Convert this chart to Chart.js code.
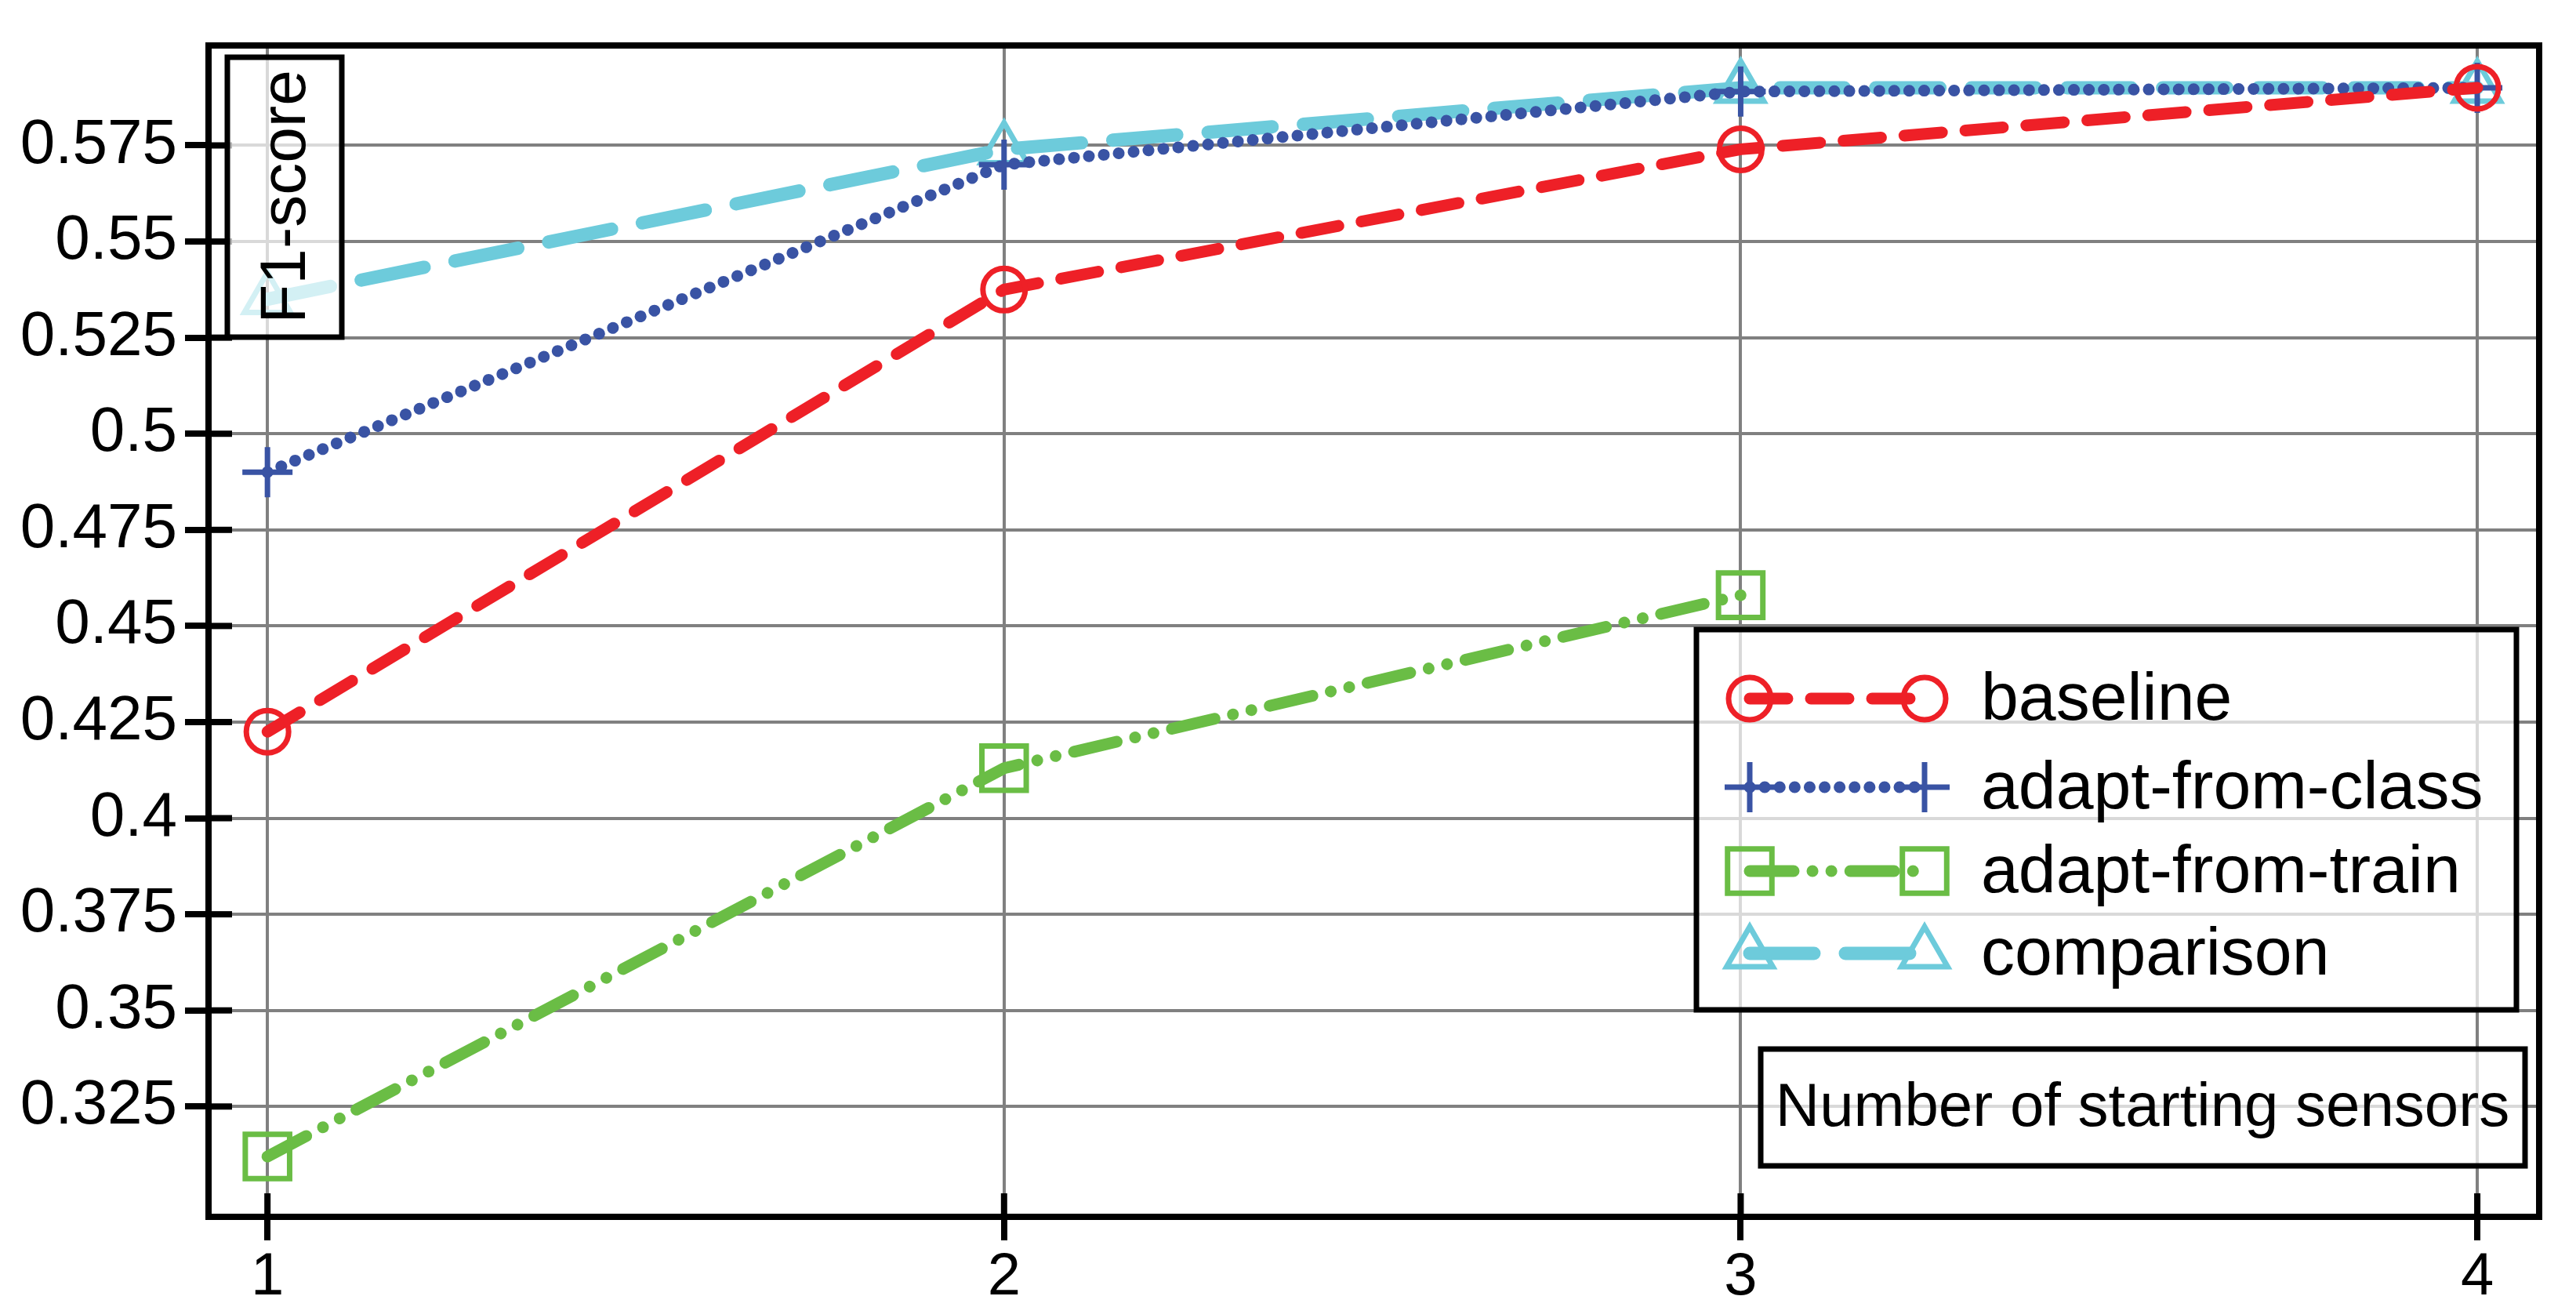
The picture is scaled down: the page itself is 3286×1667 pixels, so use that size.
<!DOCTYPE html>
<html><head><meta charset="utf-8">
<script src="https://cdn.jsdelivr.net/npm/chart.js@4"></script>
<style>html,body{margin:0;padding:0;background:#fff;overflow:hidden}</style>
</head><body>
<canvas id="c" width="3286" height="1667"></canvas>
<script>
const xCategories = [1, 2, 3, 4];
const baseline = [0.4225, 0.5375, 0.574, 0.59];
const adaptFromClass = [0.49, 0.57, 0.589, 0.59];
const adaptFromTrain = [0.312, 0.413, 0.458, null];
const comparison = [0.535, 0.574, 0.59, 0.59];
const yTicks = [0.325,0.35,0.375,0.4,0.425,0.45,0.475,0.5,0.525,0.55,0.575];
const seriesNames = ['baseline','adapt-from-class','adapt-from-train','comparison'];

const FONT = '"Liberation Sans",Arial,sans-serif';
const pts = a => a.map((v,i)=>({x:xCategories[i], y:v}));
const T = 'rgba(255,255,255,0)';
const datasets = [
  {label:seriesNames[0], data:pts(baseline), borderColor:'#EE2027', borderWidth:15, borderDash:[48,30], borderCapStyle:'round',
   pointStyle:'circle', pointRadius:27, pointBorderWidth:7, pointBackgroundColor:T, pointBorderColor:'#EE2027'},
  {label:seriesNames[1], data:pts(adaptFromClass), borderColor:'#3953A4', borderWidth:15, borderDash:[0.1,19], borderCapStyle:'round',
   pointStyle:'cross', pointRadius:32, pointBorderWidth:7, pointBackgroundColor:T, pointBorderColor:'#3953A4'},
  {label:seriesNames[2], data:pts(adaptFromTrain), borderColor:'#6ABD45', borderWidth:15, borderDash:[56,24,0.1,24,0.1,24], borderCapStyle:'round',
   pointStyle:'rect', pointRadius:40, pointBorderWidth:7, pointBackgroundColor:T, pointBorderColor:'#6ABD45'},
  {label:seriesNames[3], data:pts(comparison), borderColor:'#6DCBDB', borderWidth:17, borderDash:[82,40], borderCapStyle:'round',
   pointStyle:'triangle', pointRadius:34, pointBorderWidth:7, pointBackgroundColor:T, pointBorderColor:'#6DCBDB'}
];
datasets.forEach(d=>{d.fill=false; d.tension=0; d.spanGaps=false;});

const decor = {
  id:'decor',
  afterDatasetsDraw(chart){
    const ctx = chart.ctx, a = chart.chartArea, xs = chart.scales.x, ys = chart.scales.y;
    ctx.save();
    ctx.strokeStyle='#000'; ctx.lineWidth=8; ctx.setLineDash([]);
    yTicks.forEach(v=>{const y=ys.getPixelForValue(v); ctx.beginPath(); ctx.moveTo(a.left,y); ctx.lineTo(a.left+30,y); ctx.stroke();});
    xCategories.forEach(v=>{const x=xs.getPixelForValue(v); ctx.beginPath(); ctx.moveTo(x,a.bottom); ctx.lineTo(x,a.bottom-30); ctx.stroke();});
    ctx.strokeRect(a.left,a.top,a.right-a.left,a.bottom-a.top);
    // F1-score box
    ctx.fillStyle='rgba(255,255,255,0.7)';
    ctx.fillRect(290,73,146,357); ctx.lineWidth=7; ctx.strokeRect(290,73,146,357);
    ctx.fillStyle='#000'; ctx.font='82px '+FONT; ctx.textAlign='center'; ctx.textBaseline='middle';
    ctx.save(); ctx.translate(366,251); ctx.rotate(-Math.PI/2); ctx.fillText('F1-score',0,0); ctx.restore();
    // x-title box
    ctx.fillStyle='rgba(255,255,255,0.7)';
    ctx.fillRect(2246,1338,975,149); ctx.strokeRect(2246,1338,975,149);
    ctx.fillStyle='#000'; ctx.font='78px '+FONT; ctx.fillText('Number of starting sensors',2733,1414);
    // legend
    ctx.fillStyle='rgba(255,255,255,0.7)';
    ctx.fillRect(2164,803,1046,485); ctx.strokeRect(2164,803,1046,485);
    const rows=[891,1004,1111,1216];
    chart.data.datasets.forEach((d,i)=>{
      const y=rows[i];
      ctx.save();
      ctx.strokeStyle=d.borderColor; ctx.lineWidth=d.borderWidth; ctx.lineCap='round'; ctx.setLineDash(d.borderDash);
      ctx.beginPath(); ctx.moveTo(2232,y); ctx.lineTo(2455,y); ctx.stroke();
      ctx.restore();
      ctx.save(); ctx.strokeStyle=d.borderColor; ctx.fillStyle=T; ctx.lineWidth=d.pointBorderWidth; ctx.setLineDash([]);
      [2232,2455].forEach(x=>Chart.helpers.drawPoint(ctx,{pointStyle:d.pointStyle,radius:d.pointRadius,borderWidth:d.pointBorderWidth,rotation:0},x,y));
      ctx.restore();
      ctx.fillStyle='#000'; ctx.font='86px '+FONT; ctx.textAlign='left'; ctx.textBaseline='middle';
      ctx.fillText(d.label,2527,y+3);
    });
    ctx.restore();
  }
};

new Chart(document.getElementById('c'),{
  type:'line',
  data:{datasets},
  plugins:[decor],
  options:{
    responsive:false, animation:false, devicePixelRatio:1,
    layout:{padding:{top:38,right:36,left:0,bottom:0}},
    plugins:{legend:{display:false},tooltip:{enabled:false}},
    scales:{
      x:{type:'linear', min:0.92, max:4.084,
        afterBuildTicks:s=>{s.ticks=xCategories.map(v=>({value:v}));},
        afterFit:s=>{s.height=115;},
        grid:{color:'#808080',lineWidth:4,tickColor:'#000',tickWidth:8,tickLength:30,drawOnChartArea:true},
        border:{display:true,color:'#000',width:8},
        ticks:{color:'#000',font:{family:FONT,size:76},padding:2,maxRotation:0,callback:v=>String(v)}},
      y:{type:'linear', min:0.2963, max:0.601,
        afterBuildTicks:s=>{s.ticks=yTicks.map(v=>({value:v}));},
        afterFit:s=>{s.width=266;},
        grid:{color:'#808080',lineWidth:4,tickColor:'#000',tickWidth:8,tickLength:30},
        border:{display:true,color:'#000',width:8},
        ticks:{color:'#000',font:{family:FONT,size:80},padding:10,callback:v=>String(+v.toFixed(3))}}
    }
  }
});
</script>
</body></html>
